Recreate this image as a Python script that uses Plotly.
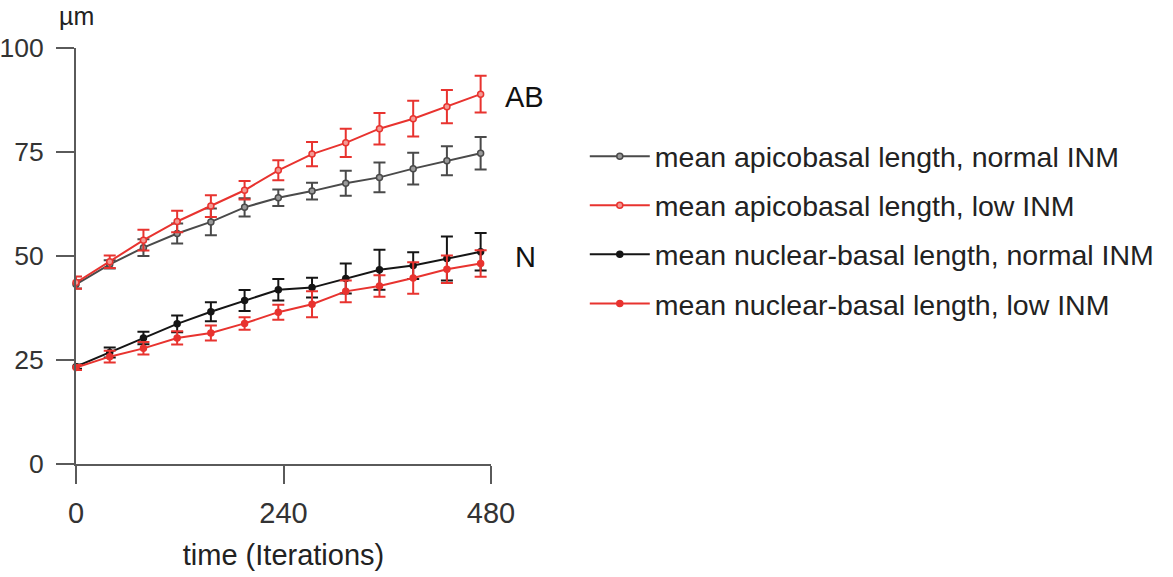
import plotly.graph_objects as go

time_iter = [0, 39, 78, 117, 156, 195, 234, 273, 312, 351, 390, 429, 468]

ab_normal = [43.2, 48.0, 52.0, 55.4, 58.2, 61.7, 64.0, 65.6, 67.5, 68.9, 71.0, 72.9, 74.7]
ab_normal_err = [1.0, 1.0, 2.0, 2.4, 3.2, 2.2, 2.0, 2.0, 3.0, 3.6, 3.8, 3.5, 3.9]

ab_low = [43.6, 48.6, 53.8, 58.3, 62.0, 65.8, 70.6, 74.5, 77.2, 80.6, 83.0, 85.9, 88.9]
ab_low_err = [1.5, 1.5, 2.5, 2.6, 2.6, 2.2, 2.4, 2.9, 3.4, 3.8, 4.3, 4.0, 4.4]

n_normal = [23.4, 26.8, 30.3, 33.7, 36.6, 39.3, 41.9, 42.4, 44.6, 46.7, 47.7, 49.4, 51.0]
n_normal_err = [0.5, 1.2, 1.5, 2.0, 2.3, 2.5, 2.6, 2.4, 3.6, 4.8, 3.2, 5.3, 4.5]

n_low = [23.2, 25.8, 27.8, 30.3, 31.5, 33.8, 36.5, 38.4, 41.5, 42.8, 44.7, 46.8, 48.2]
n_low_err = [0.6, 1.4, 1.5, 1.6, 1.8, 1.5, 1.8, 3.1, 2.6, 2.6, 3.8, 3.3, 3.2]

series_names = [
    "mean apicobasal length, normal INM",
    "mean apicobasal length, low INM",
    "mean nuclear-basal length, normal INM",
    "mean nuclear-basal length, low INM",
]

x_ticks = [0, 240, 480]
y_ticks = [0, 25, 50, 75, 100]

RED = "#e8332f"
GRAY = "#4a4a4a"
BLACK = "#151515"
FONT = "Liberation Sans, Arial, sans-serif"

specs = [
    (ab_normal, ab_normal_err, GRAY, "#9a9a9a", GRAY),
    (ab_low, ab_low_err, RED, "#f39a94", RED),
    (n_normal, n_normal_err, BLACK, BLACK, BLACK),
    (n_low, n_low_err, RED, RED, RED),
]

fig = go.Figure()
for i, (vals, errs, lc, mfill, mline) in enumerate(specs):
    fig.add_trace(go.Scatter(
        x=time_iter, y=vals, name=series_names[i],
        mode="lines+markers",
        line=dict(color=lc, width=2),
        marker=dict(size=6, color=mfill, line=dict(color=mline, width=1.5)),
        error_y=dict(type="data", array=errs, visible=True, color=lc, thickness=2, width=6),
        legendgroup=f"g{i}",
        cliponaxis=False,
    ))

axis_common = dict(
    showline=True, linecolor="#5a5a5a", linewidth=2,
    ticks="outside", ticklen=18, tickwidth=2, tickcolor="#5a5a5a",
    showgrid=False, zeroline=False, automargin=False,
)

fig.update_layout(
    width=1173, height=577,
    margin=dict(l=76, r=682, t=48, b=113),
    paper_bgcolor="white", plot_bgcolor="white",
    font=dict(family=FONT, color="#222222"),
    xaxis=dict(range=[0, 480], tickvals=x_ticks, ticklabelstandoff=4, **axis_common,
               tickfont=dict(family=FONT, size=29, color="#333333"),
               title=dict(text="time (Iterations)", font=dict(family=FONT, size=29, color="#222222"), standoff=17)),
    yaxis=dict(range=[0, 100], tickvals=y_ticks, ticklabelstandoff=7, **axis_common,
               tickfont=dict(family=FONT, size=26.5, color="#333333")),
    legend=dict(x=1.226, y=0.80, xanchor="left", yanchor="top",
                font=dict(family=FONT, size=28.5, color="#222222"),
                tracegroupgap=9, bgcolor="rgba(0,0,0,0)", itemwidth=60),
    showlegend=True,
)

fig.add_annotation(x=0, y=1, xref="paper", yref="paper", text="µm", showarrow=False,
                   xanchor="center", yanchor="bottom", xshift=0, yshift=16,
                   font=dict(family=FONT, size=25, color="#222222"))
fig.add_annotation(x=468, y=ab_low[-1], xref="x", yref="y", text="AB", showarrow=False,
                   xanchor="left", yanchor="middle", xshift=22, yshift=-3,
                   font=dict(family=FONT, size=29, color="#111111"))
fig.add_annotation(x=468, y=n_normal[-1], xref="x", yref="y", text="N", showarrow=False,
                   xanchor="left", yanchor="middle", xshift=32, yshift=-5,
                   font=dict(family=FONT, size=29, color="#111111"))

fig.write_html("out.html", config={"displayModeBar": False},
               post_script="document.body.style.margin='0px';")
